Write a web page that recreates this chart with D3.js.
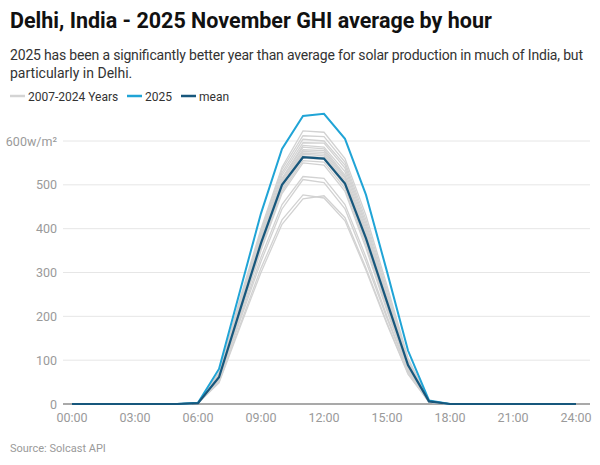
<!DOCTYPE html>
<html>
<head>
<meta charset="utf-8">
<script src="https://cdn.jsdelivr.net/npm/d3@7"></script>
<style>
  body { margin: 0; background: #fff; }
  svg { font-family: Roboto, "Open Sans", sans-serif; }
</style>
</head>
<body>
<script>
// hours of the day, 0..24
var hours = [0,1,2,3,4,5,6,7,8,9,10,11,12,13,14,15,16,17,18,19,20,21,22,23,24]

// 2007-2024 years (grey lines)
var pastYears = [
  [0,0,0,0,0,0,3,72,240,400,540,623,620,560,430,270,105,7,0,0,0,0,0,0,0],
  [0,0,0,0,0,0,3,70,235,395,535,612,610,552,420,262,100,7,0,0,0,0,0,0,0],
  [0,0,0,0,0,0,3,68,232,390,528,604,600,545,412,255,98,6,0,0,0,0,0,0,0],
  [0,0,0,0,0,0,3,66,228,385,522,596,595,538,405,250,96,6,0,0,0,0,0,0,0],
  [0,0,0,0,0,0,2,65,225,380,515,590,586,530,398,246,94,6,0,0,0,0,0,0,0],
  [0,0,0,0,0,0,2,64,222,378,512,586,582,522,392,242,92,6,0,0,0,0,0,0,0],
  [0,0,0,0,0,0,2,63,220,375,508,580,578,518,388,238,90,6,0,0,0,0,0,0,0],
  [0,0,0,0,0,0,2,62,218,372,505,576,574,515,385,236,90,5,0,0,0,0,0,0,0],
  [0,0,0,0,0,0,2,60,215,368,500,572,570,510,380,232,88,5,0,0,0,0,0,0,0],
  [0,0,0,0,0,0,2,60,212,365,498,570,566,506,376,230,87,5,0,0,0,0,0,0,0],
  [0,0,0,0,0,0,2,58,210,362,495,566,562,502,372,226,85,5,0,0,0,0,0,0,0],
  [0,0,0,0,0,0,2,57,208,358,490,561,558,498,368,222,84,5,0,0,0,0,0,0,0],
  [0,0,0,0,0,0,2,56,205,355,485,555,552,492,362,218,82,5,0,0,0,0,0,0,0],
  [0,0,0,0,0,0,2,55,200,350,480,550,545,485,355,212,80,5,0,0,0,0,0,0,0],
  [0,0,0,0,0,0,2,54,195,335,455,519,515,455,335,200,76,4,0,0,0,0,0,0,0],
  [0,0,0,0,0,0,2,52,190,325,445,512,505,445,325,195,74,4,0,0,0,0,0,0,0],
  [0,0,0,0,0,0,2,50,180,310,420,477,470,418,305,182,68,4,0,0,0,0,0,0,0],
  [0,0,0,0,0,0,2,48,175,300,410,468,475,425,310,185,70,4,0,0,0,0,0,0,0]
]

var year2025 = [0,0,0,0,0,0,3,80,258,435,582,657,662,605,477,302,122,8,0,0,0,0,0,0,0]
var meanVals = [0,0,0,0,0,0,2,61,214,367,500,563,560,503,378,233,89,6,0,0,0,0,0,0,0]

var yTicks = [0, 100, 200, 300, 400, 500, 600]
var xTicks = [0, 3, 6, 9, 12, 15, 18, 21, 24]

var width = 600, height = 465

var svg = d3.select("body").append("svg")
    .attr("width", width)
    .attr("height", height)

// titles
svg.append("text")
    .attr("x", 10).attr("y", 28)
    .style("font-size", "21.5px").style("font-weight", "bold").style("fill", "#111")
    .text("Delhi, India - 2025 November GHI average by hour")

svg.append("text")
    .attr("x", 10).attr("y", 60)
    .style("font-size", "14px").style("fill", "#333")
    .attr("textLength", 573).attr("lengthAdjust", "spacing")
    .text("2025 has been a significantly better year than average for solar production in much of India, but")
svg.append("text")
    .attr("x", 10).attr("y", 78)
    .style("font-size", "14px").style("fill", "#333")
    .text("particularly in Delhi.")

// legend
var legendItems = [
    {name: "2007-2024 Years", color: "#d4d4d4", x: 10},
    {name: "2025", color: "#20a4d6", x: 127},
    {name: "mean", color: "#17577c", x: 181}
]
var legend = svg.selectAll(".legend")
    .data(legendItems)
    .enter()
    .append("g")
        .attr("transform", (d) => "translate(" + d.x + ",96)")
legend.append("line")
    .attr("x1", 0).attr("x2", 15)
    .attr("stroke", (d) => d.color)
    .attr("stroke-width", 2.5)
legend.append("text")
    .attr("x", 18).attr("y", 4.5)
    .style("font-size", "12px").style("fill", "#333")
    .text((d) => d.name)

// scales
var x = d3.scaleLinear().domain([0, 24]).range([72, 576])
var y = d3.scaleLinear().domain([0, 600]).range([404, 141])

// grid
svg.selectAll(".grid")
    .data(yTicks.filter((t) => t > 0))
    .enter()
    .append("line")
        .attr("x1", 63).attr("x2", 590)
        .attr("y1", (d) => y(d)).attr("y2", (d) => y(d))
        .attr("stroke", "#e6e6e6")
        .attr("stroke-width", 1)

// y labels
svg.selectAll(".ylab")
    .data(yTicks)
    .enter()
    .append("text")
        .attr("x", 57)
        .attr("y", (d) => y(d) + 4.5)
        .attr("text-anchor", "end")
        .style("font-size", "12.5px")
        .style("fill", "#9a9a9a")
        .text((d) => d === 600 ? "600w/m²" : d)

// x labels
svg.selectAll(".xlab")
    .data(xTicks)
    .enter()
    .append("text")
        .attr("x", (d) => x(d))
        .attr("y", 422)
        .attr("text-anchor", "middle")
        .style("font-size", "12.5px")
        .style("fill", "#9a9a9a")
        .text((d) => (d < 10 ? "0" + d : d) + ":00")

// baseline
svg.append("line")
    .attr("x1", 63).attr("x2", 590)
    .attr("y1", y(0)).attr("y2", y(0))
    .attr("stroke", "#8c8c8c")
    .attr("stroke-width", 1.5)

var line = d3.line()
    .x((d, i) => x(hours[i]))
    .y((d) => y(d))

svg.selectAll(".past")
    .data(pastYears)
    .enter()
    .append("path")
        .attr("d", line)
        .attr("fill", "none")
        .attr("stroke", "#d2d2d2")
        .attr("stroke-width", 1.3)

svg.append("path")
    .datum(year2025)
    .attr("d", line)
    .attr("fill", "none")
    .attr("stroke", "#20a4d6")
    .attr("stroke-width", 2)

svg.append("path")
    .datum(meanVals)
    .attr("d", line)
    .attr("fill", "none")
    .attr("stroke", "#17577c")
    .attr("stroke-width", 2.2)

// source
svg.append("text")
    .attr("x", 10).attr("y", 452)
    .style("font-size", "11px").style("fill", "#9a9a9a")
    .text("Source: Solcast API")
</script>
</body>
</html>
